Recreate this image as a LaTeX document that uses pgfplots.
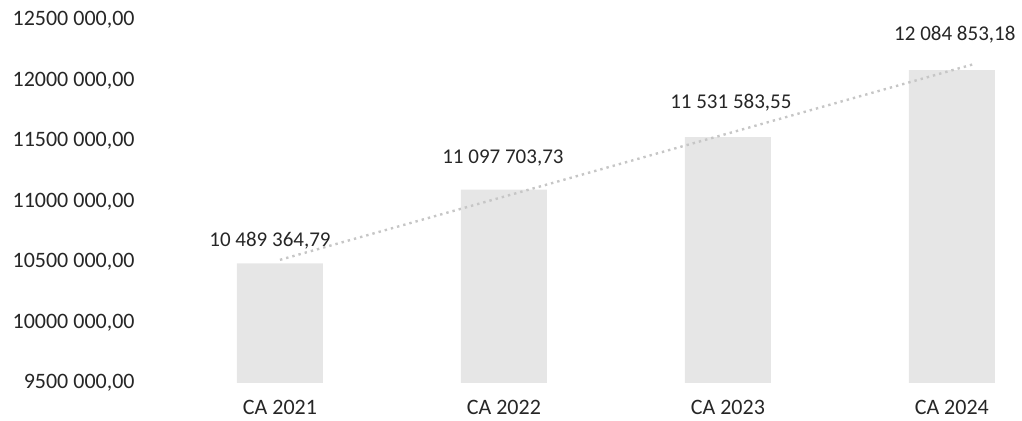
\documentclass[border=0pt]{standalone}
\usepackage{pgfplots}
\pgfplotsset{compat=1.18}
\usepackage{fontspec}
\setmainfont{Carlito}
\definecolor{barc}{HTML}{E6E6E6}
\definecolor{txt}{HTML}{262626}
\begin{document}
\fontsize{10.5}{12.6}\selectfont
\begin{tikzpicture}
\useasboundingbox (-84pt,-19pt) rectangle (427pt,191.5pt);
\begin{axis}[
  at={(0pt,0pt)}, anchor=south west,
  scale only axis, width=425.5pt, height=181.5pt,
  xmin=-0.5, xmax=3.3, ymin=9500000, ymax=12500000,
  scaled y ticks=false,
  axis line style={draw=none},
  major tick length=0pt,
  xtick={0,1,2,3},
  xticklabels={CA 2021,CA 2022,CA 2023,CA 2024},
  ytick={9500000,10000000,10500000,11000000,11500000,12000000,12500000},
  yticklabels={{9500 000,00},{10000 000,00},{10500 000,00},{11000 000,00},{11500 000,00},{12000 000,00},{12500 000,00}},
  yticklabel style={anchor=east, xshift=-13pt, text=txt, font=\fontsize{11}{13}\selectfont},
  xticklabel style={yshift=-5pt, text=txt, font=\fontsize{11}{13}\selectfont},
]
\addplot[ybar, bar width=43pt, fill=barc, draw=none,
  nodes near coords, point meta=explicit symbolic,
  visualization depends on={\thisrow{dy} \as \dy},
  visualization depends on={\thisrow{dx} \as \dx},
  every node near coord/.append style={anchor=center, yshift=\dy pt, xshift=\dx pt, text=txt, font=\fontsize{10.5}{12.6}\selectfont},
] table[col sep=semicolon, x=x, y=y, meta=lab] {
x;y;dy;dx;lab
0;10489364.79;11.5;-5;10 489 364,79
1;11097703.73;16;-0.5;11 097 703,73
2;11531583.55;17;1.5;11 531 583,55
3;12084853.18;18;1.5;12 084 853,18
};
\addplot[gray!45, dotted, line width=1.2pt, sharp plot, mark=none] coordinates {(0,10517825) (3.1,12136131)};
\end{axis}
\end{tikzpicture}
\end{document}
